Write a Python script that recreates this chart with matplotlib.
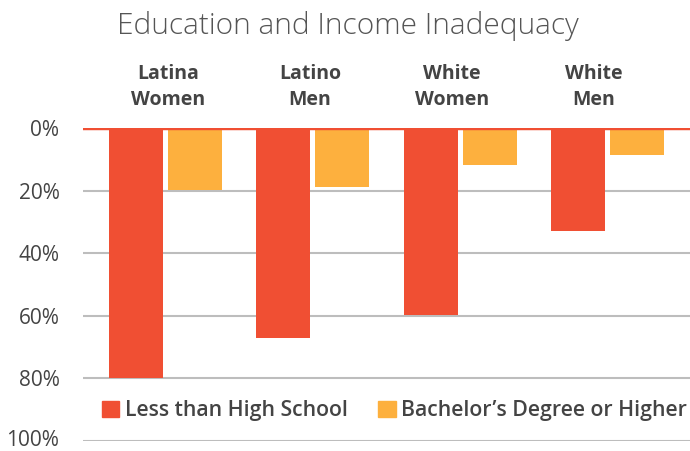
import matplotlib
matplotlib.use("Agg")
import matplotlib.pyplot as plt
import matplotlib.transforms as mtransforms
import numpy as np
from matplotlib.patches import Patch

categories = ["Latina\nWomen", "Latino\nMen", "White\nWomen", "White\nMen"]
less_than_hs = [80.0, 67.1, 59.8, 32.8]
bachelors = [19.8, 18.8, 11.7, 8.5]
series_names = ["Less than High School", "Bachelor\u2019s Degree or Higher"]
yticks = [0, 20, 40, 60, 80, 100]
ytick_labels = ["0%", "20%", "40%", "60%", "80%", "100%"]
title = "Education and Income Inadequacy"

RED = "#F04F33"
ORANGE = "#FDB03E"
TEXT = "#444444"
GRID = "#BDBDBD"

fig = plt.figure(figsize=(6.9, 4.51), dpi=100)
ax = fig.add_axes([83/690, 10/451, 1 - 83/690, 313/451])

x = np.arange(len(categories))
w = 0.366
ax.bar(x - 0.2, less_than_hs, width=w, color=RED, zorder=2)
ax.bar(x + 0.2, bachelors, width=w, color=ORANGE, zorder=2)

ax.set_ylim(100, 0)
ax.set_xlim(-0.559, 3.556)
ax.set_yticks(yticks)
ax.set_yticklabels(ytick_labels, fontsize=15, color=TEXT, family="Open Sans")
ax.set_xticks([])
ax.tick_params(axis="y", length=0, pad=17)
last = ax.get_yticklabels()[-1]
last.set_transform(last.get_transform() + mtransforms.ScaledTranslation(0, 3/100, fig.dpi_scale_trans))
for t in yticks[1:]:
    ax.axhline(t, color=GRID, lw=1.5, zorder=1)
ax.axhline(0, color=RED, lw=3.2, zorder=3)
for s in ax.spines.values():
    s.set_visible(False)

for i, c in enumerate(categories):
    ax.text(0.017 + i * 0.962, -5.6, c, ha="center", va="bottom", fontsize=14,
            fontweight="bold", color=TEXT, family="Open Sans", linespacing=1.45)

fig.text(347.5/690, 1 - 34/451, title, ha="center", va="baseline", fontsize=21.5,
         color="#555555", family="Open Sans", fontweight="light")

handles = [Patch(color=RED), Patch(color=ORANGE)]
leg = ax.legend(handles, series_names, loc="center left", bbox_to_anchor=(0.031, 0.096),
                ncol=2, frameon=False, borderpad=0, borderaxespad=0,
                handlelength=0.82, handleheight=0.82, handletextpad=0.25, columnspacing=1.45,
                prop={"family": "Open Sans", "weight": "semibold", "size": 15.3})
for t in leg.get_texts():
    t.set_color(TEXT)

fig.savefig("out.png", dpi=100)
